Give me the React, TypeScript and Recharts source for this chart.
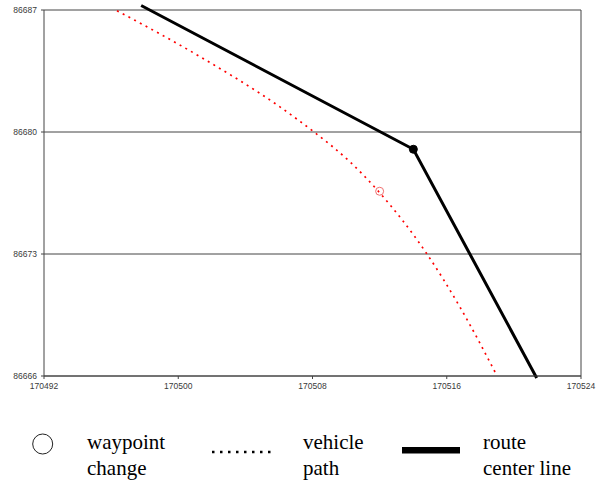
import React from 'react';
import { LineChart, Line, XAxis, YAxis, CartesianGrid, ReferenceDot, ReferenceLine } from 'recharts';

const xTicks = [170492, 170500, 170508, 170516, 170524];
const yTicks = [86666, 86673, 86680, 86687];

const routeX = [170497.79, 170514.01, 170521.36];
const routeY = [86687.26, 86679.01, 86665.89];

const pathX = [170496.35, 170501.3, 170506.06, 170508.09, 170510.24, 170511.96, 170514.82, 170516.79, 170519.0];
const pathY = [86686.96, 86684.32, 86681.44, 86680.0, 86678.28, 86676.56, 86673.0, 86669.95, 86666.0];

const waypointChange = { x: 170512.0, y: 86676.6 };
const routeCorner = { x: routeX[1], y: routeY[1] };

const legendLabels = [
  ['waypoint', 'change'],
  ['vehicle', 'path'],
  ['route', 'center line'],
];

const routeData = routeX.map((x, i) => ({ x, y: routeY[i] }));
const pathData = pathX.map((x, i) => ({ x, y: pathY[i] }));

const tickStyle = { fontFamily: "'Liberation Sans', Arial, sans-serif", fontSize: 8.5, fill: '#3a3a3a' };

export default function App() {
  return (
    <div style={{ position: 'absolute', left: 0, top: 0, width: 600, height: 480, background: '#fff' }}>
      <style>{'.recharts-line, .recharts-line * { clip-path: none !important; } .lg { font-family: "Liberation Serif", "Times New Roman", "DejaVu Serif", serif; font-size: 21px; }'}</style>
      <LineChart width={600} height={400} margin={{ top: 10, right: 19, left: 0, bottom: 0 }}>
        <CartesianGrid vertical={false} stroke="#444" strokeWidth={1} />
        <XAxis
          type="number"
          dataKey="x"
          domain={[170492, 170524]}
          ticks={xTicks}
          allowDataOverflow
          height={24}
          tickSize={3}
          tickMargin={4}
          tick={tickStyle}
          stroke="#444"
          interval={0}
        />
        <YAxis
          type="number"
          dataKey="y"
          domain={[86666, 86687]}
          ticks={yTicks}
          allowDataOverflow
          width={44}
          tickSize={3}
          tickMargin={4}
          tick={tickStyle}
          stroke="#444"
          interval={0}
        />
        <ReferenceLine x={170524} stroke="#444" strokeWidth={1} />
        <Line
          data={pathData}
          dataKey="y"
          type="monotone"
          stroke="#ff0000"
          strokeWidth={1.7}
          strokeDasharray="2 4.5"
          dot={false}
          isAnimationActive={false}
        />
        <Line
          data={routeData}
          dataKey="y"
          type="linear"
          stroke="#000"
          strokeWidth={3}
          dot={false}
          isAnimationActive={false}
        />
        <ReferenceDot x={waypointChange.x} y={waypointChange.y} r={4} fill="none" stroke="#f07070" strokeWidth={1} />
        <ReferenceDot x={routeCorner.x} y={routeCorner.y} r={4} fill="#000" stroke="#000" strokeWidth={1} />
      </LineChart>
      <svg width={600} height={80} style={{ position: 'absolute', left: 0, top: 400 }}>
        <circle cx={42.7} cy={44} r={10} fill="none" stroke="#222" strokeWidth={1} />
        <line x1={212} y1={52} x2={272} y2={52} stroke="#000" strokeWidth={2.5} strokeDasharray="2.5 5.5" />
        <rect x={402} y={47} width={58} height={6.5} fill="#000" />
      </svg>
      {legendLabels.map((lines, i) => (
        <div
          key={i}
          className="lg"
          style={{ position: 'absolute', left: [87, 303, 483][i], top: 429, lineHeight: '26px', color: '#000', whiteSpace: 'nowrap' }}
        >
          {lines[0]}
          <br />
          {lines[1]}
        </div>
      ))}
    </div>
  );
}
